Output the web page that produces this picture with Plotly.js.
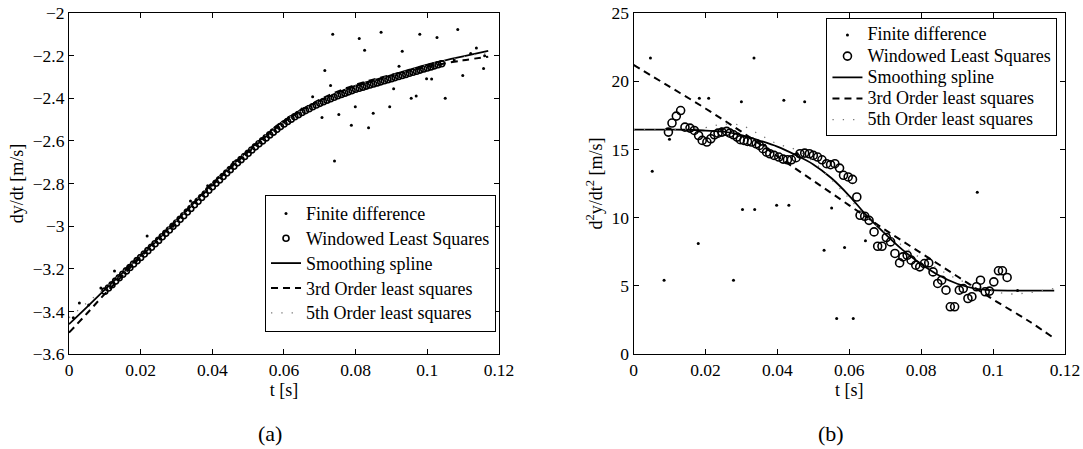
<!DOCTYPE html>
<html>
<head>
<meta charset="utf-8">
<script src="https://cdn.plot.ly/plotly-3.0.1.min.js"></script>
<style>html,body{margin:0;padding:0;background:#fff;}#chart{width:1083px;height:449px;}</style>
</head>
<body>
<div id="chart"></div>
<script>
// ---------- Panel (a): dy/dt ----------
const seriesNames = ["Finite difference", "Windowed Least Squares", "Smoothing spline", "3rd Order least squares", "5th Order least squares"];

const aFdT = [0.0012,0.0029,0.0055,0.0089,0.0127,0.0165,0.0218,0.0255,0.0290,0.0339,0.0387,0.0420,0.0459,0.0507,0.0540,0.0580,0.0613,0.0650,0.0680,
  0.0706,0.0714,0.0730,0.0736,0.0741,0.0753,0.0788,0.0799,0.0810,0.0825,0.0836,0.0849,0.0871,0.0895,0.0906,0.0921,0.0930,0.0955,0.0969,0.0979,0.0998,0.1012,0.1027,0.1050,0.1075,0.1085,0.1099,0.1121,0.1137,0.1157,0.1160];
const aFdY = [-3.430,-3.361,-3.370,-3.290,-3.210,-3.190,-3.046,-3.060,-3.000,-2.882,-2.810,-2.770,-2.700,-2.640,-2.590,-2.530,-2.490,-2.450,-2.393,
  -2.490,-2.270,-2.340,-2.100,-2.695,-2.476,-2.527,-2.440,-2.120,-2.175,-2.539,-2.470,-2.090,-2.440,-2.356,-2.250,-2.180,-2.400,-2.390,-2.100,-2.308,-2.310,-2.115,-2.400,-2.220,-2.078,-2.293,-2.190,-2.164,-2.260,-2.200];

const aWlsT = [0.010,0.011,0.012,0.013,0.014,0.015,0.016,0.017,0.018,0.019,0.020,0.021,0.022,0.023,0.024,0.025,0.026,0.027,0.028,0.029,
  0.030,0.031,0.032,0.033,0.034,0.035,0.036,0.037,0.038,0.039,0.040,0.041,0.042,0.043,0.044,0.045,0.046,0.047,0.048,0.049,
  0.050,0.051,0.052,0.053,0.054,0.055,0.056,0.057,0.058,0.059,0.060,0.061,0.062,0.063,0.064,0.065,0.066,0.067,0.068,0.069,
  0.070,0.071,0.072,0.073,0.074,0.075,0.076,0.077,0.078,0.079,0.080,0.081,0.082,0.083,0.084,0.085,0.086,0.087,0.088,0.089,
  0.090,0.091,0.092,0.093,0.094,0.095,0.096,0.097,0.098,0.099,0.100,0.101,0.102,0.103,0.104];
const aWlsY = [-3.305,-3.290,-3.275,-3.258,-3.242,-3.226,-3.210,-3.194,-3.178,-3.162,-3.147,-3.131,-3.115,-3.099,-3.083,-3.067,-3.050,-3.034,-3.018,-3.001,
  -2.985,-2.968,-2.951,-2.934,-2.917,-2.900,-2.883,-2.866,-2.849,-2.832,-2.815,-2.799,-2.783,-2.767,-2.751,-2.735,-2.719,-2.703,-2.688,-2.673,
  -2.658,-2.643,-2.628,-2.614,-2.600,-2.586,-2.572,-2.559,-2.546,-2.533,-2.521,-2.509,-2.498,-2.487,-2.477,-2.467,-2.458,-2.449,-2.440,-2.432,
  -2.424,-2.416,-2.409,-2.402,-2.395,-2.388,-2.382,-2.376,-2.370,-2.364,-2.358,-2.353,-2.348,-2.343,-2.338,-2.333,-2.328,-2.323,-2.318,-2.313,
  -2.308,-2.303,-2.298,-2.293,-2.288,-2.283,-2.278,-2.273,-2.268,-2.263,-2.258,-2.253,-2.248,-2.243,-2.238];

const aSplT = [0,0.005,0.010,0.015,0.020,0.025,0.030,0.035,0.040,0.045,0.050,0.055,0.060,0.065,0.070,0.075,0.080,0.085,0.090,0.095,0.100,0.105,0.110,0.117];
const aSplY = [-3.460,-3.380,-3.298,-3.218,-3.138,-3.056,-2.974,-2.888,-2.802,-2.723,-2.646,-2.573,-2.505,-2.453,-2.412,-2.374,-2.341,-2.315,-2.291,-2.266,-2.242,-2.222,-2.203,-2.178];

const a3T = [0,0.005,0.010,0.020,0.030,0.040,0.050,0.060,0.070,0.080,0.090,0.100,0.110,0.117];
const a3Y = [-3.500,-3.410,-3.318,-3.145,-2.975,-2.808,-2.652,-2.512,-2.407,-2.337,-2.290,-2.252,-2.222,-2.205];

const a5T = [0,0.005,0.010,0.020,0.030,0.040,0.050,0.060,0.070,0.080,0.090,0.100,0.110,0.117];
const a5Y = [-3.430,-3.360,-3.292,-3.136,-2.972,-2.800,-2.645,-2.506,-2.412,-2.342,-2.292,-2.243,-2.205,-2.185];

// ---------- Panel (b): d2y/dt2 ----------
const bFdT = [0.0047,0.0052,0.0085,0.0100,0.0180,0.0183,0.0209,0.0245,0.0278,0.0300,0.0303,0.0335,0.0337,0.0365,0.0398,0.0418,0.0432,0.0455,0.0476,0.0530,0.0551,0.0565,0.0587,0.0611,0.0645,0.0956,0.1068];
const bFdY = [21.7,13.4,5.4,15.75,8.1,18.75,18.75,16.5,5.4,18.5,10.6,21.7,10.6,15.3,10.9,18.6,10.9,14.7,18.5,7.6,10.7,2.6,7.8,2.6,8.3,11.85,4.65];

const bWlsT = [0.0097,0.0107,0.0119,0.0131,0.0143,0.0157,0.0169,0.0181,0.0191,0.0204,0.0215,0.0225,0.0235,0.0246,0.0259,0.0268,0.0278,0.0288,0.0297,0.0307,
  0.0317,0.0328,0.0341,0.0350,0.0360,0.0370,0.0379,0.0391,0.0404,0.0416,0.0428,0.0439,0.0452,0.0463,0.0476,0.0489,0.0500,0.0512,0.0524,0.0537,
  0.0548,0.0560,0.0573,0.0584,0.0597,0.0609,0.0621,0.0630,0.0643,0.0655,0.0669,0.0679,0.0691,0.0703,0.0715,0.0727,0.0740,0.0749,0.0761,0.0772,
  0.0785,0.0796,0.0809,0.0821,0.0833,0.0846,0.0857,0.0869,0.0881,0.0893,0.0906,0.0917,0.0930,0.0941,0.0954,0.0965,0.0978,0.0990,0.1002,0.1015,0.1026,0.1039];
const bWlsY = [16.27,16.93,17.44,17.85,16.63,16.56,16.39,16.02,15.66,15.54,15.78,16.07,16.19,16.27,16.32,16.19,16.07,15.90,15.71,15.66,
  15.59,15.54,15.41,15.29,15.05,14.80,14.68,14.56,14.44,14.29,14.24,14.24,14.39,14.68,14.73,14.68,14.56,14.44,14.24,13.95,
  13.88,13.95,13.63,13.10,12.98,12.80,11.51,10.17,10.10,9.80,8.95,7.90,7.90,8.54,8.22,7.37,6.68,7.12,7.24,6.88,
  6.51,6.39,6.63,6.68,6.02,5.17,5.41,4.68,3.46,3.46,4.68,4.80,4.07,4.20,4.93,5.41,4.56,4.61,5.29,6.10,6.10,5.61];

const bSplT = [0,0.005,0.010,0.015,0.020,0.025,0.030,0.035,0.040,0.045,0.050,0.055,0.060,0.065,0.070,0.075,0.080,0.085,0.090,0.095,0.100,0.105,0.110,0.117];
const bSplY = [16.45,16.45,16.45,16.44,16.38,16.30,16.05,15.65,15.20,14.60,13.90,12.90,11.60,10.10,8.80,7.60,6.60,5.75,5.15,4.80,4.68,4.65,4.65,4.65];

const b3T = [0,0.010,0.020,0.030,0.040,0.050,0.060,0.070,0.080,0.090,0.100,0.110,0.117];
const b3Y = [21.2,19.6,18.0,16.3,14.5,12.7,10.9,9.1,7.4,5.7,4.0,2.4,1.15];

const b5T = [0,0.010,0.020,0.025,0.030,0.035,0.040,0.045,0.050,0.055,0.060,0.065,0.070,0.075,0.080,0.085,0.090,0.095,0.100,0.105,0.110,0.117];
const b5Y = [16.45,16.45,16.6,16.85,16.75,16.1,15.4,15.0,14.1,12.8,11.4,10.0,8.9,7.9,7.0,6.2,5.5,5.0,4.6,4.4,4.5,4.8];

// ---------- build ----------
const FONT = "Liberation Serif, Times New Roman, serif";
function lbl(s){ return '<span style="font-size:18px">' + s + '</span>'; }

function panel(xa, ya, leg, d, circSize){
  return [
    {x:d.fdT, y:d.fdY, xaxis:xa, yaxis:ya, legend:leg, legendgroup:leg+'0', name:lbl(seriesNames[0]), type:'scatter', mode:'markers',
     marker:{color:'#000', size:3, symbol:'circle'}},
    {x:d.wlsT, y:d.wlsY, xaxis:xa, yaxis:ya, legend:leg, legendgroup:leg+'1', name:lbl(seriesNames[1]), type:'scatter', mode:'markers',
     marker:{color:'#000', size:circSize, symbol:'circle-open', line:{color:'#000', width:1.6}}},
    {x:d.splT, y:d.splY, xaxis:xa, yaxis:ya, legend:leg, legendgroup:leg+'2', name:lbl(seriesNames[2]), type:'scatter', mode:'lines',
     line:{color:'#000', width:1.8, shape:'spline'}},
    {x:d.o3T, y:d.o3Y, xaxis:xa, yaxis:ya, legend:leg, legendgroup:leg+'3', name:lbl(seriesNames[3]), type:'scatter', mode:'lines',
     line:{color:'#000', width:2, dash:'7px,5px', shape:'spline'}},
    {x:d.o5T, y:d.o5Y, xaxis:xa, yaxis:ya, legend:leg, legendgroup:leg+'4', name:lbl(seriesNames[4]), type:'scatter', mode:'lines',
     line:{color:'#777', width:1.3, dash:'1.3px,9px', shape:'spline'}}
  ];
}

const data = [].concat(
  panel('x','y','legend', {fdT:aFdT, fdY:aFdY, wlsT:aWlsT, wlsY:aWlsY, splT:aSplT, splY:aSplY, o3T:a3T, o3Y:a3Y, o5T:a5T, o5Y:a5Y}, 6),
  panel('x2','y2','legend2', {fdT:bFdT, fdY:bFdY, wlsT:bWlsT, wlsY:bWlsY, splT:bSplT, splY:bSplY, o3T:b3T, o3Y:b3Y, o5T:b5T, o5Y:b5Y}, 8)
);

const tickFont = {family:FONT, size:17.5, color:'#000'};
const titleFont = {family:FONT, size:18, color:'#000'};
function ax(extra){
  return Object.assign({
    ticks:'inside', ticklen:5, tickwidth:1, tickcolor:'#000',
    showline:true, linecolor:'#000', linewidth:1, mirror:'ticks',
    showgrid:false, zeroline:false, tickfont:tickFont, fixedrange:true
  }, extra);
}

const layout = {
  width:1083, height:449,
  margin:{l:69, r:18, t:13, b:95},
  paper_bgcolor:'#fff', plot_bgcolor:'#fff',
  font:{family:FONT, color:'#000'},
  showlegend:true,
  xaxis: ax({domain:[0,0.4317], range:[0,0.12], tick0:0, dtick:0.02, anchor:'y', title:{text:'t [s]', font:titleFont, standoff:3}}),
  yaxis: ax({domain:[0,1], range:[-3.6,-2], tick0:0, dtick:0.2, anchor:'x', title:{text:'dy/dt [m/s]', font:titleFont, standoff:4}}),
  xaxis2: ax({domain:[0.5668,1], range:[0,0.12], tick0:0, dtick:0.02, anchor:'y2', title:{text:'t [s]', font:titleFont, standoff:3}}),
  yaxis2: ax({domain:[0,1], range:[0,25], tick0:0, dtick:5, anchor:'x2', title:{text:'d<sup>2</sup>y/dt<sup>2</sup> [m/s]', font:titleFont, standoff:4}}),
  legend:{x:0.1968, y:1-(195-13)/341, xanchor:'left', yanchor:'top', bgcolor:'#fff', bordercolor:'#000', borderwidth:1,
    font:{family:FONT, size:16.8, color:'#000'}, tracegroupgap:0, itemclick:false, itemdoubleclick:false},
  legend2:{x:0.7605, y:0.9845, xanchor:'left', yanchor:'top', bgcolor:'#fff', bordercolor:'#000', borderwidth:1,
    font:{family:FONT, size:14, color:'#000'}, tracegroupgap:0, itemclick:false, itemdoubleclick:false},
  annotations:[
    {text:'(a)', xref:'paper', yref:'paper', x:(270-69)/996, y:1-(433-13)/341, xanchor:'center', yanchor:'middle', showarrow:false,
     font:{family:FONT, size:22, color:'#000'}},
    {text:'(b)', xref:'paper', yref:'paper', x:(831-69)/996, y:1-(433-13)/341, xanchor:'center', yanchor:'middle', showarrow:false,
     font:{family:FONT, size:22, color:'#000'}}
  ]
};

Plotly.newPlot('chart', data, layout, {displayModeBar:false, staticPlot:true});
</script>
</body>
</html>
